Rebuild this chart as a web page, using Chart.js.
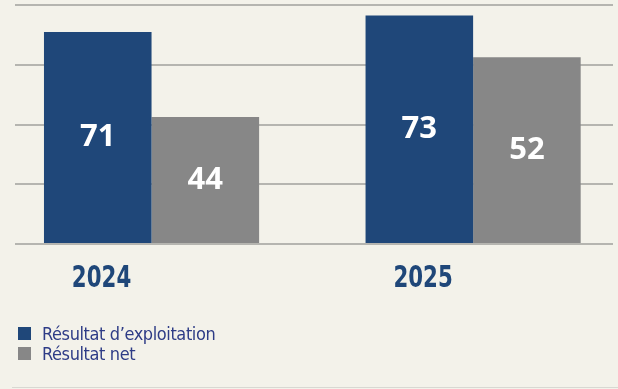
<!DOCTYPE html>
<html>
<head>
<meta charset="utf-8">
<script src="https://cdn.jsdelivr.net/npm/chart.js@4"></script>
<style>
  html, body { margin: 0; padding: 0; background: #f3f2ea; }
  #wrap { position: relative; width: 618px; height: 389px; overflow: hidden; }
  #legend { position: absolute; left: 18px; top: 323px; font: 18px "DejaVu Sans Condensed", sans-serif; letter-spacing: -0.4px; color: #2e3c86; }
  .item { display: flex; align-items: center; height: 20px; }
  .box { width: 13px; height: 13px; margin-right: 11px; }
  #rule { position: absolute; left: 12px; right: 0; top: 387px; height: 1px; background: #d8d8d2; }
</style>
</head>
<body>
<div id="wrap">
  <canvas id="chart" width="618" height="389"></canvas>
  <div id="legend"></div>
  <div id="rule"></div>
</div>
<script>
// ── Données ──
const categories   = ['2024', '2025'];
const seriesNames  = ['Résultat d’exploitation', 'Résultat net'];
const seriesColors = ['#1f4779', '#878787'];
// hauteurs des barres lues sur la grille (0–80, pas de 20)
const exploitationHeights = [71, 76.5];
const netHeights          = [42.5, 62.5];
// valeurs affichées dans les barres
const exploitationLabels = ['71', '73'];
const netLabels          = ['44', '52'];
const yTicks = [0, 20, 40, 60, 80];

// ── Étiquettes dans les barres ──
const valeursPlugin = {
  id: 'valeurs',
  afterDatasetsDraw(chart) {
    const ctx = chart.ctx;
    ctx.save();
    ctx.fillStyle = '#ffffff';
    ctx.font = 'bold 31px "Open Sans", sans-serif';
    ctx.textAlign = 'center';
    ctx.textBaseline = 'middle';
    chart.data.datasets.forEach((ds, di) => {
      chart.getDatasetMeta(di).data.forEach((bar, i) => {
        ctx.fillText(ds.valueLabels[i], bar.x, (bar.y + bar.base) / 2);
      });
    });
    ctx.restore();
  }
};

// ── Années sous les barres (police étroite) ──
const anneesPlugin = {
  id: 'annees',
  afterDraw(chart) {
    const { ctx, chartArea } = chart;
    const xs = chart.scales.x;
    ctx.save();
    ctx.fillStyle = '#1f4779';
    ctx.font = 'bold 30px "DejaVu Sans Condensed", sans-serif';
    ctx.textAlign = 'center';
    ctx.textBaseline = 'alphabetic';
    categories.forEach((c, i) => {
      ctx.save();
      ctx.translate(xs.getPixelForValue(i) - 50, chartArea.bottom + 43);
      ctx.scale(0.79, 1);
      ctx.fillText(c, 0, 0);
      ctx.restore();
    });
    ctx.restore();
  }
};

const chart = new Chart(document.getElementById('chart'), {
  type: 'bar',
  data: {
    datasets: [
      {
        label: seriesNames[0],
        data: exploitationHeights.map((v, i) => ({ x: i, y: v })),
        valueLabels: exploitationLabels,
        backgroundColor: seriesColors[0]
      },
      {
        label: seriesNames[1],
        data: netHeights.map((v, i) => ({ x: i, y: v })),
        valueLabels: netLabels,
        backgroundColor: seriesColors[1]
      }
    ]
  },
  options: {
    responsive: false,
    animation: false,
    layout: { padding: { left: 15, right: 5, top: 5, bottom: 0 } },
    datasets: { bar: { categoryPercentage: 0.669, barPercentage: 1, borderWidth: 0 } },
    plugins: { legend: { display: false }, tooltip: { enabled: false } },
    scales: {
      x: {
        type: 'linear',
        offset: false,
        min: -0.4246,
        max: 1.435,
        grid: { display: false },
        border: { display: false },
        afterBuildTicks: s => { s.ticks = categories.map((c, i) => ({ value: i })); },
        afterFit: s => { s.height = 145; },
        ticks: { display: false }
      },
      y: {
        min: 0,
        max: 80,
        afterBuildTicks: s => { s.ticks = yTicks.map(v => ({ value: v })); },
        ticks: { display: false },
        grid: { color: '#b5b5b0', lineWidth: 2, drawTicks: false },
        border: { display: false }
      }
    }
  },
  plugins: [valeursPlugin, anneesPlugin]
});

// ── Légende ──
document.getElementById('legend').innerHTML = seriesNames.map((n, i) => `
  <div class="item"><span class="box" style="background:${seriesColors[i]}"></span>${n}</div>`).join('');
</script>
</body>
</html>
